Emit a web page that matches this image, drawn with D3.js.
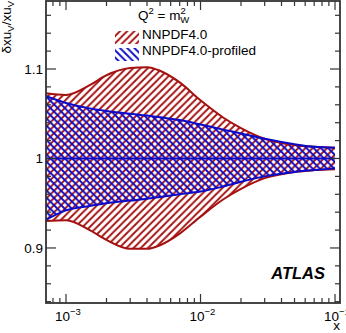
<!DOCTYPE html>
<html>
<head>
<meta charset="utf-8">
<script src="https://cdn.jsdelivr.net/npm/d3@7"></script>
<style>
  body { margin: 0; background: #fff; }
  text { font-family: "Liberation Sans", Arial, sans-serif; fill: #000; }
</style>
</head>
<body>
<svg class="chart"></svg>
<script>
// Data
var xs = [7e-4, 1e-3, 1.5e-3, 2e-3, 3e-3, 4e-3, 5e-3, 7e-3, 1e-2, 1.5e-2, 2e-2, 3e-2, 5e-2, 7e-2, 1e-1];
var nnpdfUp   = [1.073, 1.071, 1.082, 1.093, 1.101, 1.102, 1.098, 1.085, 1.065, 1.045, 1.034, 1.022, 1.015, 1.013, 1.012];
var nnpdfDown = [0.930, 0.931, 0.920, 0.909, 0.899, 0.899, 0.903, 0.916, 0.935, 0.955, 0.966, 0.978, 0.985, 0.987, 0.988];
var profUp    = [1.070, 1.062, 1.056, 1.053, 1.050, 1.048, 1.046, 1.043, 1.038, 1.032, 1.028, 1.022, 1.016, 1.013, 1.012];
var profDown  = [0.931, 0.942, 0.947, 0.950, 0.953, 0.955, 0.957, 0.960, 0.963, 0.969, 0.974, 0.980, 0.985, 0.987, 0.989];
var yMajor = [0.9, 1, 1.1];
var yTickLabels = ["0.9", "1", "1.1"];
var xMajor = [1e-3, 1e-2, 1e-1];
var xExponents = ["\u22123", "\u22122", "\u22121"];
var seriesNames = ["NNPDF4.0", "NNPDF4.0-profiled"];

var red = "#a51010", blue = "#0a0ac8";

// Frame
var frame = {left: 46, right: 340, top: 1, bottom: 303};

var x = d3.scaleLog()
    .domain([7.1e-4, 0.1089])
    .range([frame.left, frame.right]);

var y = d3.scaleLinear()
    .domain([0.8385, 1.176])
    .range([frame.bottom, frame.top]);

var svg = d3.select(".chart")
    .attr("width", 346)
    .attr("height", 333);

// Hatch patterns
var defs = svg.append("defs");
var hs = 7.2;
defs.append("pattern")
    .attr("id", "hatchRed")
    .attr("patternUnits", "userSpaceOnUse")
    .attr("width", hs).attr("height", hs)
  .append("path")
    .attr("d", "M0," + hs + "L" + hs + ",0M-1,1L1,-1M" + (hs - 1) + "," + (hs + 1) + "L" + (hs + 1) + "," + (hs - 1))
    .attr("stroke", red)
    .attr("stroke-width", 1.9);

defs.append("pattern")
    .attr("id", "hatchBlue")
    .attr("patternUnits", "userSpaceOnUse")
    .attr("width", hs).attr("height", hs)
  .append("path")
    .attr("d", "M0,0L" + hs + "," + hs + "M-1," + (hs - 1) + "L1," + (hs + 1) + "M" + (hs - 1) + ",-1L" + (hs + 1) + ",1")
    .attr("stroke", blue)
    .attr("stroke-width", 1.9);

var clip = defs.append("clipPath").attr("id", "plotClip");
clip.append("rect")
    .attr("x", frame.left).attr("y", frame.top)
    .attr("width", frame.right - frame.left)
    .attr("height", frame.bottom - frame.top);

var plot = svg.append("g").attr("clip-path", "url(#plotClip)");

function band(up, down) {
  return d3.area()
      .x(function(d, i) { return x(xs[i]); })
      .y0(function(d, i) { return y(down[i]); })
      .y1(function(d, i) { return y(up[i]); })
      .curve(d3.curveMonotoneX)(xs);
}

function edge(vals) {
  return d3.line()
      .x(function(d, i) { return x(xs[i]); })
      .y(function(d, i) { return y(vals[i]); })
      .curve(d3.curveMonotoneX)(xs);
}

// Bands
plot.append("path").attr("d", band(nnpdfUp, nnpdfDown)).attr("fill", "url(#hatchRed)");
plot.append("path").attr("d", band(profUp, profDown)).attr("fill", "url(#hatchBlue)");

[nnpdfUp, nnpdfDown].forEach(function(v) {
  plot.append("path").attr("d", edge(v))
      .attr("fill", "none").attr("stroke", red).attr("stroke-width", 2);
});
[profUp, profDown].forEach(function(v) {
  plot.append("path").attr("d", edge(v))
      .attr("fill", "none").attr("stroke", blue).attr("stroke-width", 2);
});

// Central line
plot.append("line")
    .attr("x1", x(xs[0])).attr("x2", x(xs[xs.length - 1]))
    .attr("y1", y(1)).attr("y2", y(1))
    .attr("stroke", blue).attr("stroke-width", 2);

// Ticks (ROOT style, inside the frame, on all four sides)
var axisColor = "#333";
var ticks = svg.append("g").attr("stroke", axisColor).attr("stroke-width", 1.2);

var yMinor = d3.range(0.84, 1.18, 0.02).map(function(v) { return Math.round(v * 100) / 100; });
yMinor.forEach(function(v) {
  var major = yMajor.some(function(m) { return Math.abs(m - v) < 1e-6; });
  var len = major ? 10 : 5;
  ticks.append("line").attr("x1", frame.left).attr("x2", frame.left + len).attr("y1", y(v)).attr("y2", y(v));
  ticks.append("line").attr("x1", frame.right).attr("x2", frame.right - len).attr("y1", y(v)).attr("y2", y(v));
});

var xTicks = [];
[-4, -3, -2, -1].forEach(function(e) {
  for (var k = 1; k <= 9; k++) xTicks.push({v: k * Math.pow(10, e), major: k === 1});
});
xTicks.filter(function(t) { return t.v >= x.domain()[0] && t.v <= x.domain()[1]; })
  .forEach(function(t) {
    var len = t.major ? 9 : 5;
    ticks.append("line").attr("x1", x(t.v)).attr("x2", x(t.v)).attr("y1", frame.bottom).attr("y2", frame.bottom - len);
    ticks.append("line").attr("x1", x(t.v)).attr("x2", x(t.v)).attr("y1", frame.top).attr("y2", frame.top + len);
  });

// Frame box
svg.append("rect")
    .attr("x", frame.left).attr("y", frame.top)
    .attr("width", frame.right - frame.left)
    .attr("height", frame.bottom - frame.top)
    .attr("fill", "none").attr("stroke", axisColor).attr("stroke-width", 1.8);

// Tick labels
yMajor.forEach(function(v, i) {
  svg.append("text")
      .attr("x", 43).attr("y", y(v) + 5)
      .attr("text-anchor", "end")
      .attr("font-size", 13.5)
      .text(yTickLabels[i]);
});

xMajor.forEach(function(v, i) {
  var t = svg.append("text")
      .attr("x", x(v) - 11).attr("y", 321)
      .attr("font-size", 13.5);
  t.append("tspan").text("10");
  t.append("tspan").attr("dy", -6).attr("font-size", 9.5).text(xExponents[i]);
});

// Axis titles
svg.append("text")
    .attr("x", 340).attr("y", 330)
    .attr("text-anchor", "end")
    .attr("font-size", 13.5)
    .text("x");

var yt = svg.append("text")
    .attr("transform", "translate(11,1) rotate(-90)")
    .attr("text-anchor", "end")
    .attr("font-size", 13.5);
yt.append("tspan").text("\u03b4xu");
yt.append("tspan").attr("dy", 3).attr("font-size", 9.5).text("V");
yt.append("tspan").attr("dy", -3).text("/xu");
yt.append("tspan").attr("dy", 3).attr("font-size", 9.5).text("V");

// Legend
var q = svg.append("text").attr("x", 138).attr("y", 20).attr("font-size", 13.5);
q.append("tspan").text("Q");
q.append("tspan").attr("dy", -6).attr("font-size", 9.5).text("2");
q.append("tspan").attr("dy", 6).text(" = m");
q.append("tspan").attr("dy", -6).attr("font-size", 9.5).text("2");
q.append("tspan").attr("dx", -5.5).attr("dy", 9).attr("font-size", 9.5).text("W");

var legendFills = ["url(#hatchRed)", "url(#hatchBlue)"];
seriesNames.forEach(function(name, i) {
  var ly = 31 + i * 17;
  svg.append("rect")
      .attr("x", 115).attr("y", ly)
      .attr("width", 24).attr("height", 13)
      .attr("fill", legendFills[i]);
  svg.append("text")
      .attr("x", 142).attr("y", ly + 8 + (i === 0 ? 0 : -1))
      .attr("font-size", 13.5)
      .text(name);
});

// ATLAS label
svg.append("text")
    .attr("x", 325).attr("y", 279)
    .attr("text-anchor", "end")
    .attr("font-size", 16.5)
    .attr("font-weight", "bold")
    .attr("font-style", "italic")
    .text("ATLAS");
</script>
</body>
</html>
